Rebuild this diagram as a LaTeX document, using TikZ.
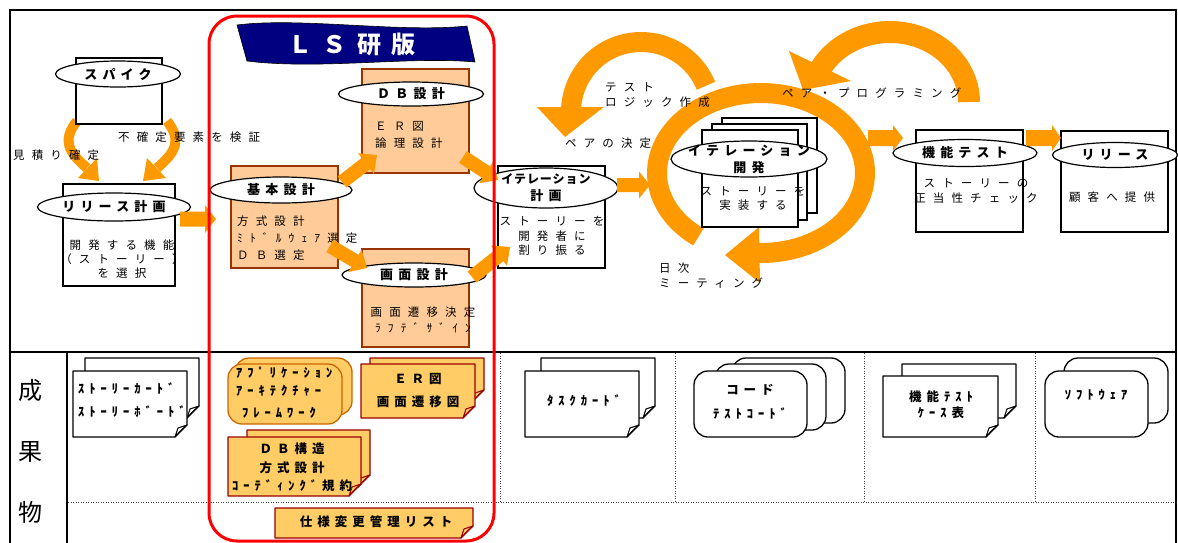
\documentclass[tikz,border=0pt]{standalone}
\usepackage{fontspec}
\setmainfont{Noto Sans CJK JP}
\newfontfamily\jpbody[LetterSpace=62]{Noto Sans CJK JP}
\newfontfamily\jpbold[LetterSpace=40]{Noto Sans CJK JP}
\newfontfamily\jpboldtight[LetterSpace=8]{Noto Sans CJK JP}
\newfontfamily\jptitle[LetterSpace=42]{Noto Sans CJK JP}
\newfontfamily\jpplain{Noto Sans CJK JP}
\usetikzlibrary{calc,shapes.geometric}

\definecolor{flow}{RGB}{255,153,0}
\definecolor{peach}{RGB}{255,204,153}
\definecolor{brownedge}{RGB}{153,51,0}
\definecolor{cardfill}{RGB}{255,204,102}
\definecolor{cardedge}{RGB}{153,0,0}
\definecolor{appedge}{RGB}{204,102,0}
\definecolor{navy}{RGB}{0,0,128}
\definecolor{lsred}{RGB}{255,0,0}

\newcommand\bodyfont[1][14.5pt]{\jpbody\fontsize{11.5pt}{#1}\selectfont}
\newcommand\tagfont[1][17pt]{\jpbold\bfseries\fontsize{13pt}{#1}\selectfont}
\newcommand\cardfont[1][18pt]{\jpbold\bfseries\fontsize{12.5pt}{#1}\selectfont}

% thick orange block arrow: start, tip, half shaft, half head, head length
\newcommand\fatarrow[5]{%
  \coordinate (fab) at ($(#2)!#5!(#1)$);
  \fill[flow] ($(#1)!#3!90:(#2)$) -- ($(fab)!#3!90:(#2)$) -- ($(fab)!#4!90:(#2)$)
    -- (#2) -- ($(fab)!#4!-90:(#2)$) -- ($(fab)!#3!-90:(#2)$) -- ($(#1)!#3!-90:(#2)$) -- cycle;}

% sheet with a turned-up lower right corner: x1,y1,x2,y2,fill,edge
\newcommand\foldcard[6]{%
  \filldraw[fill=#5,draw=#6,line width=1.3pt,line join=round]
    (#1,#2) -- (#3,#2) -- (#3,#4-12) -- (#3-12,#4) -- (#1,#4) -- cycle;
  \filldraw[fill=#5,draw=#6,line width=1pt,line join=round]
    (#3-12,#4) .. controls (#3-10,#4-5) .. (#3-9,#4-9) -- (#3,#4-12) .. controls (#3-6,#4-7) .. cycle;}

\tikzset{
  procbox/.style={draw=black,fill=white,line width=1.3pt,inner sep=0pt},
  designbox/.style={draw=brownedge,fill=peach,line width=2pt,inner sep=0pt},
  tag/.style={ellipse,draw=black,fill=white,line width=1.2pt,inner sep=0pt},
  tagtext/.style={inner sep=0pt,font=\tagfont,align=center},
  bodytext/.style={inner sep=0pt,font=\bodyfont,align=center},
  sidetext/.style={inner sep=0pt,font=\bodyfont,anchor=west,align=left},
  cardtext/.style={inner sep=0pt,font=\cardfont,align=center},
  dotsep/.style={line width=0.8pt,dash pattern=on 1pt off 1.5pt,black!75},
  roundsheet/.style={fill=white,draw=black,line width=1.3pt,rounded corners=14pt},
}

\begin{document}
\begin{tikzpicture}[x=1pt,y=-1pt]
\useasboundingbox (0,0) rectangle (1178,542);
\clip (0,0) rectangle (1178,542);

% outer frame and row/column rules
\draw[line width=2pt] (10,10) rectangle (1176,580);
\draw[line width=1.3pt] (10,352) -- (1176,352);
\draw[line width=1.3pt] (67,352) -- (67,580);
\draw[dotsep] (68,502) -- (1176,502);
\foreach \x in {500,675,864,1035} \draw[dotsep] (\x,353) -- (\x,502);

% curved flow arrows
\draw[flow,line width=20pt,line join=round] plot[domain=-22:-182,samples=60,variable=\t] ({641+70*cos(\t)},{112+70*sin(\t)});
\fill[flow] (537,107) -- (604,107) -- (565,137) -- cycle;
\draw[flow,line width=22pt,line join=round] plot[domain=0:-153,samples=60,variable=\t] ({890+79*cos(\t)},{102+70*sin(\t)});
\fill[flow] (789,51) -- (851,81) -- (803,90) -- cycle;
\draw[flow,line width=20pt,line join=round] plot[domain=127:452,samples=120,variable=\t] ({761+104*cos(\t)},{173+80*sin(\t)});
\fill[flow] (759,227) -- (725,255) -- (760,283) -- cycle;
\draw[flow,line width=10pt] (77,121) .. controls (62,140) and (68,152) .. (87,168);
\fill[flow] (78,178) -- (97,158) -- (99,181) -- cycle;
\draw[flow,line width=10pt] (167,121) .. controls (182,140) and (176,152) .. (157,168);
\fill[flow] (166,178) -- (147,158) -- (143,181) -- cycle;

% spike
\node[procbox,minimum width=86pt,minimum height=66pt] (spike) at (119,91) {};
\node[tag,minimum width=125pt,minimum height=26pt,label={[tagtext]center:スパイク}] (spikeTag) at (118,74) {};

% release planning
\node[procbox,minimum width=112pt,minimum height=102pt] (relplan) at (119,235) {};
\node[tag,minimum width=153pt,minimum height=28pt,label={[tagtext]center:リリース計画}] (relplanTag) at (114,207) {};
\node[bodytext,font={\bodyfont[14pt]}] (relplanTxt) at (122,259) {開発する機能\\（ストーリー）\\を選択};

% basic design
\node[designbox,minimum width=107pt,minimum height=102pt] (kihon) at (284.5,217) {};
\node[tag,minimum width=142pt,minimum height=26pt,label={[tagtext]center:基本設計}] (kihonTag) at (281,190) {};
\node[sidetext,font={\bodyfont[17pt]}] (kihonTxt) at (237,238) {方式設計\\ﾐﾄﾞﾙｳｪｱ選定\\ＤＢ選定};

% DB design
\node[designbox,minimum width=107pt,minimum height=104pt] (db) at (415.5,121) {};
\node[tag,minimum width=145pt,minimum height=24pt,label={[tagtext]center:ＤＢ設計}] (dbTag) at (411,94) {};
\node[sidetext,font={\bodyfont[17pt]}] (dbTxt) at (375,134.5) {ＥＲ図\\論理設計};

% screen design
\node[designbox,minimum width=107pt,minimum height=98pt] (gamen) at (415.5,298) {};
\node[tag,minimum width=144pt,minimum height=24pt,label={[tagtext]center:画面設計}] (gamenTag) at (414,275) {};
\node[bodytext,font={\bodyfont[16pt]}] (gamenTxt) at (423,320) {画面遷移決定\\ﾗﾌﾃﾞｻﾞｲﾝ};

% iteration planning
\node[procbox,minimum width=107pt,minimum height=102pt] (iterplan) at (551.5,217) {};
\node[tag,minimum width=144pt,minimum height=40pt,label={[tagtext,font={\tagfont[17pt]}]center:{{\jpboldtight\bfseries\fontsize{12pt}{17pt}\selectfont イテレーション}\\計画}}] (iterplanTag) at (546,188) {};
\node[bodytext] (iterplanTxt) at (552,236) {ストーリーを\\開発者に\\割り振る};

% iteration development
\filldraw[procbox] (722,118) rectangle (817,213);
\filldraw[procbox] (712,124) rectangle (807,220);
\node[procbox,minimum width=96pt,minimum height=97pt] (iterdev) at (750,178.5) {};
\node[tag,minimum width=156pt,minimum height=36pt,label={[tagtext]center:{イテレーション\\開発}}] (iterdevTag) at (749,159) {};
\node[bodytext,font={\bodyfont[14pt]}] (iterdevTxt) at (753,198) {ストーリーを\\実装する};

% functional test
\node[procbox,minimum width=107pt,minimum height=102pt] (kinou) at (969.5,181) {};
\node[tag,minimum width=144pt,minimum height=27pt,label={[tagtext]center:機能テスト}] (kinouTag) at (965,153) {};
\node[bodytext,font={\bodyfont[15pt]}] (kinouTxt) at (976,191.5) {ストーリーの\\正当性チェック};

% release
\node[procbox,minimum width=107pt,minimum height=101pt] (release) at (1114.5,181.5) {};
\node[tag,minimum width=125pt,minimum height=25pt,label={[tagtext]center:リリース}] (releaseTag) at (1115,155) {};
\node[bodytext] (releaseTxt) at (1112,197) {顧客へ提供};

% block arrows between the steps
\coordinate (a1s) at (180,219); \coordinate (a1t) at (216,219);
\coordinate (a2s) at (342,182); \coordinate (a2t) at (377,155);
\coordinate (a3s) at (330,246); \coordinate (a3t) at (367,268);
\coordinate (a4s) at (463,157); \coordinate (a4t) at (498,180);
\coordinate (a5s) at (472,277); \coordinate (a5t) at (510,247);
\coordinate (a6s) at (617,185); \coordinate (a6t) at (650,185);
\coordinate (a7s) at (868,138); \coordinate (a7t) at (903,138);
\coordinate (a8s) at (1026,138); \coordinate (a8t) at (1061,138);
\fatarrow{a1s}{a1t}{7.5pt}{14pt}{11pt}
\fatarrow{a2s}{a2t}{7pt}{13pt}{14pt}
\fatarrow{a3s}{a3t}{7pt}{13pt}{14pt}
\fatarrow{a4s}{a4t}{7pt}{13pt}{14pt}
\fatarrow{a5s}{a5t}{7pt}{13pt}{14pt}
\fatarrow{a6s}{a6t}{7pt}{13.5pt}{11pt}
\fatarrow{a7s}{a7t}{8pt}{13pt}{10pt}
\fatarrow{a8s}{a8t}{8pt}{13pt}{9pt}

% free labels
\node[sidetext] (estimate) at (13,155) {見積り確定};
\node[sidetext] (verify) at (118,137) {不確定要素を検証};
\node[sidetext,font={\bodyfont[15pt]}] (testlogic) at (605,95.5) {テスト\\ロジック作成};
\node[sidetext] (pairsel) at (565,143) {ペアの決定};
\node[sidetext,font={\bodyfont[15pt]}] (daily) at (659,275.5) {日次\\ミーティング};
\node[sidetext] (pairprog) at (782,93) {ペア・プログラミング};

% deliverables row
\node[inner sep=0pt,font=\jpplain\fontsize{24pt}{24pt}\selectfont] (dl1) at (31,390) {成};
\node[inner sep=0pt,font=\jpplain\fontsize{24pt}{24pt}\selectfont] (dl2) at (31,452) {果};
\node[inner sep=0pt,font=\jpplain\fontsize{24pt}{24pt}\selectfont] (dl3) at (31,512) {物};

\foldcard{85}{358}{199}{418}{white}{black}
\foldcard{73}{371}{187}{437}{white}{black}
\node[cardtext,anchor=west,align=left,font={\cardfont[23pt]}] (storyTxt) at (78,400.5) {ｽﾄｰﾘｰｶｰﾄﾞ\\ｽﾄｰﾘｰﾎﾞｰﾄﾞ};

\filldraw[fill=cardfill,draw=appedge,line width=1.3pt,rounded corners=14pt] (235,358) rectangle (352,415);
\filldraw[fill=cardfill,draw=appedge,line width=1.3pt,rounded corners=14pt] (228,364) rectangle (342,424);
\node[cardtext,anchor=west,align=left] (appTxt) at (236,393) {ｱﾌﾟﾘｹｰｼｮﾝ\\ｱｰｷﾃｸﾁｬｰ\\[4pt]\hspace*{6pt}ﾌﾚｰﾑﾜｰｸ};

\foldcard{370}{358}{484}{402}{cardfill}{cardedge}
\foldcard{361}{364}{475}{418}{cardfill}{cardedge}
\node[cardtext,font={\cardfont[23pt]}] (erTxt) at (418,390.5) {ＥＲ図\\画面遷移図};

\foldcard{247}{430}{370}{487}{cardfill}{cardedge}
\foldcard{228}{437}{361}{496}{cardfill}{cardedge}
\node[cardtext,font={\cardfont[18.5pt]}] (dbcardTxt) at (292,467.5) {ＤＢ構造\\方式設計\\ｺｰﾃﾞｨﾝｸﾞ規約};

\foldcard{275}{508}{473}{538}{cardfill}{cardedge}
\node[cardtext] (specTxt) at (376,522) {仕様変更管理リスト};

\foldcard{541}{358}{655}{418}{white}{black}
\foldcard{525}{371}{639}{437}{white}{black}
\node[cardtext] (taskTxt) at (584,401) {ﾀｽｸｶｰﾄﾞ};

\filldraw[roundsheet] (732,358) rectangle (845,423);
\filldraw[roundsheet] (715,364) rectangle (826,430);
\filldraw[roundsheet] (694,371) rectangle (807,437);
\node[cardtext,font={\cardfont[24pt]}] (codeTxt) at (750,402) {コード\\ﾃｽﾄｺｰﾄﾞ};

\foldcard{902}{364}{1016}{418}{white}{black}
\foldcard{883}{376}{998}{437}{white}{black}
\node[cardtext,font={\cardfont[16pt]}] (ftTxt) at (941,405) {機能ﾃｽﾄ\\ｹｰｽ表};

\filldraw[roundsheet] (1064,358) rectangle (1168,423);
\filldraw[roundsheet] (1045,371) rectangle (1148,437);
\node[cardtext] (swTxt) at (1096,395) {ｿﾌﾄｳｪｱ};

% LS edition banner and frame
\filldraw[fill=navy,draw=black,line width=0.6pt] (237,25) .. controls (300,17) and (400,33) .. (467,26)
  -- (475,62) .. controls (410,56) and (320,70) .. (247,61) -- cycle;
\node[inner sep=0pt,text=white,font=\jptitle\bfseries\fontsize{24pt}{24pt}\selectfont] (title) at (352,44) {ＬＳ研版};
\draw[lsred,line width=3pt,rounded corners=28pt] (209,16) rectangle (494,541);
\end{tikzpicture}
\end{document}
